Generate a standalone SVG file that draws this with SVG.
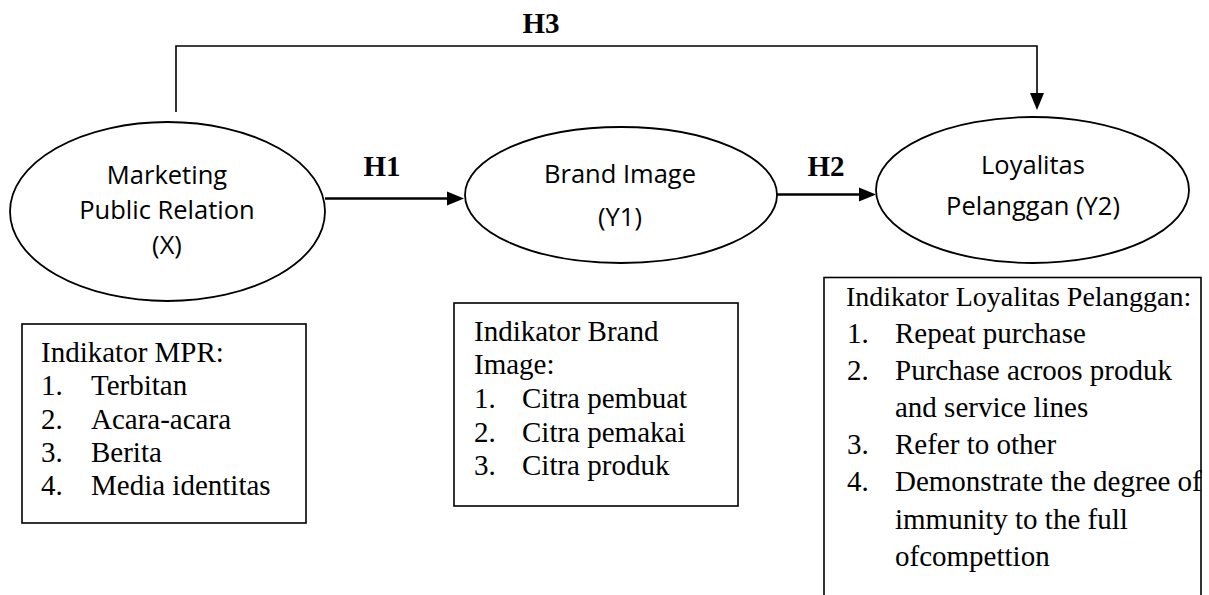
<svg xmlns="http://www.w3.org/2000/svg" width="1209" height="595" viewBox="0 0 1209 595">
<style>
.node{fill:#fff;stroke:#000;stroke-width:1.8}
.box{fill:#fff;stroke:#000;stroke-width:1.6}
.et{font-family:"Open Sans","Liberation Sans",sans-serif;font-size:25.5px;fill:#000;text-anchor:middle}
.bt{font-family:"Liberation Serif","Times New Roman",serif;font-size:29px;fill:#000}
.lbl{font-family:"Liberation Serif","Times New Roman",serif;font-size:29px;font-weight:bold;fill:#000;text-anchor:middle}
.conn{fill:none;stroke:#000;stroke-width:2.5}
.thin{fill:none;stroke:#000;stroke-width:1.6}
</style>
<defs>
<marker id="arr" markerUnits="userSpaceOnUse" markerWidth="18" markerHeight="16" refX="2" refY="8" orient="auto">
<path d="M0,1 L17,8 L0,15 Z" fill="#000"/>
</marker>
</defs>
<rect width="1209" height="595" fill="#fff"/>
<g id="connectors">
<path class="thin" d="M176,112 V46 H1037 V95" marker-end="url(#arr)"/>
<path class="conn" d="M325,198.5 H449" marker-end="url(#arr)"/>
<path class="conn" d="M777,194.5 H861" marker-end="url(#arr)"/>
<text class="lbl" x="541" y="33">H3</text>
<text class="lbl" x="382" y="176">H1</text>
<text class="lbl" x="826" y="176">H2</text>
</g>
<g id="node-x">
<ellipse class="node" cx="167.5" cy="211.5" rx="157.5" ry="89.5"/>
<text class="et" x="167" y="184">Marketing</text>
<text class="et" x="167" y="219">Public Relation</text>
<text class="et" x="167" y="254">(X)</text>
</g>
<g id="node-y1">
<ellipse class="node" cx="621" cy="195" rx="156" ry="68"/>
<text class="et" x="620" y="183">Brand Image</text>
<text class="et" x="620" y="226">(Y1)</text>
</g>
<g id="node-y2">
<ellipse class="node" cx="1032.5" cy="190" rx="156.5" ry="73"/>
<text class="et" x="1033" y="174">Loyalitas</text>
<text class="et" x="1033" y="215">Pelanggan (Y2)</text>
</g>
<g id="box-mpr">
<rect class="box" x="22" y="324" width="284" height="199"/>
<text class="bt" x="41" y="362">Indikator MPR:</text>
<text class="bt" x="41" y="395">1.</text><text class="bt" x="91" y="395">Terbitan</text>
<text class="bt" x="41" y="428.5">2.</text><text class="bt" x="91" y="428.5">Acara-acara</text>
<text class="bt" x="41" y="462">3.</text><text class="bt" x="91" y="462">Berita</text>
<text class="bt" x="41" y="495">4.</text><text class="bt" x="91" y="495">Media identitas</text>
</g>
<g id="box-brand">
<rect class="box" x="454" y="303" width="284" height="203"/>
<text class="bt" x="474" y="341">Indikator Brand</text>
<text class="bt" x="474" y="374">Image:</text>
<text class="bt" x="474" y="408">1.</text><text class="bt" x="522" y="408">Citra pembuat</text>
<text class="bt" x="474" y="441.5">2.</text><text class="bt" x="522" y="441.5">Citra pemakai</text>
<text class="bt" x="474" y="475">3.</text><text class="bt" x="522" y="475">Citra produk</text>
</g>
<g id="box-loyal">
<rect class="box" x="824" y="277.5" width="377" height="340"/>
<text class="bt" x="846" y="306" style="font-size:28px">Indikator Loyalitas Pelanggan:</text>
<text class="bt" x="847" y="343">1.</text><text class="bt" x="895" y="343">Repeat purchase</text>
<text class="bt" x="847" y="380">2.</text><text class="bt" x="895" y="380">Purchase acroos produk</text>
<text class="bt" x="895" y="417">and service lines</text>
<text class="bt" x="847" y="454">3.</text><text class="bt" x="895" y="454">Refer to other</text>
<text class="bt" x="847" y="491">4.</text><text class="bt" x="895" y="491">Demonstrate the degree of</text>
<text class="bt" x="895" y="529">immunity to the full</text>
<text class="bt" x="895" y="566">ofcompettion</text>
</g>
</svg>
